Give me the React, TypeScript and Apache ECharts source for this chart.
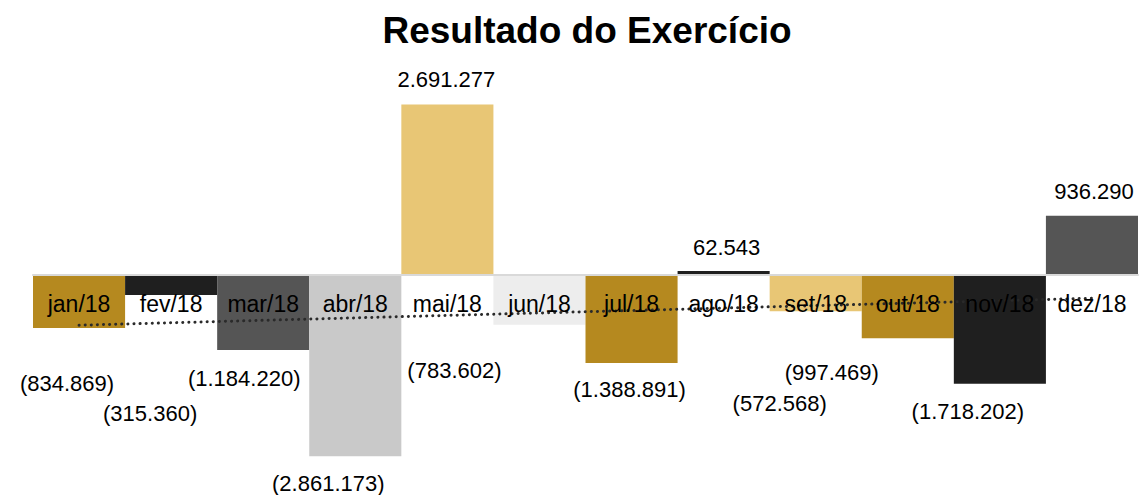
import React, { useEffect, useRef } from "react";
import * as echarts from "echarts";

const categories = ["jan/18", "fev/18", "mar/18", "abr/18", "mai/18", "jun/18", "jul/18", "ago/18", "set/18", "out/18", "nov/18", "dez/18"];
const results = [-834869, -315360, -1184220, -2861173, 2691277, -783602, -1388891, 62543, -572568, -997469, -1718202, 936290];
// linear trend line endpoints, first and last month
const trendEnds = [-793000, -367000];

const barColors = ["#B5891F", "#1F1F1F", "#555555", "#C9C9C9", "#E8C675", "#EDEDED", "#B5891F", "#1F1F1F", "#E8C675", "#B5891F", "#1F1F1F", "#555555"];
const labelOffsets: [number, number][] = [
  [-12, 40], [-21, 103], [-19, 12], [-27, 11], [-1, -9], [-85, 30],
  [-2, 11], [3, -8], [-36, 76], [-76, 18], [-32, 12], [2, -8],
];

const FONT = "'Liberation Sans', Arial, sans-serif";

function fmt(n: number): string {
  const s = Math.abs(n).toString().replace(/\B(?=(\d{3})+(?!\d))/g, ".");
  return n < 0 ? `(${s})` : s;
}

export default function App() {
  const ref = useRef<HTMLDivElement>(null);
  useEffect(() => {
    if (!ref.current) return;
    const chart = echarts.init(ref.current, undefined, { renderer: "svg" });
    const trendData = categories.map((_, i) => (i === 0 ? trendEnds[0] : i === categories.length - 1 ? trendEnds[1] : null));
    chart.setOption({
      animation: false,
      backgroundColor: "#ffffff",
      graphic: [
        {
          type: "text",
          x: 587,
          y: 30,
          style: {
            text: "Resultado do Exercício",
            font: `bold 37px ${FONT}`,
            fill: "#000000",
            textAlign: "center",
            textVerticalAlign: "middle",
          },
        },
      ],
      grid: { left: 33, right: 2, top: 85, bottom: 30, containLabel: false, outerBoundsMode: "none" },
      xAxis: {
        type: "category",
        data: categories,
        z: 10,
        offset: -190,
        axisLine: { onZero: false, lineStyle: { color: "#D9D9D9", width: 2 } },
        axisTick: { show: false },
        axisLabel: { margin: 17, fontSize: 23, color: "#000000", fontFamily: FONT, interval: 0 },
      },
      yAxis: {
        type: "value",
        min: -3000000,
        max: 3000000,
        show: false,
        splitLine: { show: false },
      },
      series: [
        {
          type: "bar",
          barCategoryGap: "0%",
          data: results.map((v, i) => ({
            value: v,
            itemStyle: { color: barColors[i] },
            label: { offset: labelOffsets[i] },
          })),
          label: {
            show: true,
            position: "outside",
            fontSize: 22,
            color: "#000000",
            fontFamily: FONT,
            formatter: (p: any) => fmt(p.value),
          },
        },
        {
          type: "line",
          data: trendData,
          connectNulls: true,
          symbol: "none",
          z: 5,
          lineStyle: { color: "#2A2A2A", width: 3, type: [0.1, 6], cap: "round" },
        },
      ],
    });
    return () => chart.dispose();
  }, []);
  return <div ref={ref} style={{ position: "fixed", left: 0, top: 0, width: 1140, height: 495 }} />;
}
